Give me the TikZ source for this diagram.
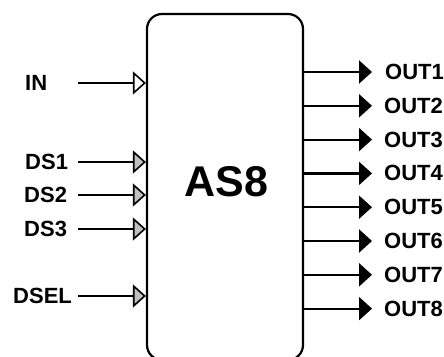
\documentclass[tikz,border=0pt]{standalone}
\usepackage{fontspec}
\setmainfont{Liberation Sans}
\usepackage{tikz}
\usetikzlibrary{arrows.meta, positioning}
\definecolor{pingray}{RGB}{192,192,192}
\tikzset{
  %% ---- boxes ----
  chip/.style    = {rectangle, rounded corners=15pt,
                    draw=black, line width=2.2pt,
                    minimum width=156pt, minimum height=346pt,
                    inner sep=0pt},
  chipname/.style= {font=\fontsize{43}{48}\selectfont\bfseries, inner sep=0pt},
  pinlbl/.style  = {font=\fontsize{22}{25}\selectfont\bfseries,
                    inner sep=0pt, anchor=west},
  %% ---- arrows ----
  inarrow/.style = {-{Triangle[length=13pt, width=23pt,
                    fill=#1, line width=1.6pt]}, line width=2.2pt},
  inarrow/.default = white,
  outarrow/.style= {-{Triangle[length=13pt, width=23pt]}, line width=2.2pt},
}
\begin{document}
\begin{tikzpicture}[x=1pt, y=-1pt]
\useasboundingbox (0,0) rectangle (444,356);

%% ── chip body ─────────────────────────────────────────────────────────────
\node[chip] (chip) at (225,187) {};
\node[chipname] (name) at (226.5,182) {AS8};

%% ── input pins ────────────────────────────────────────────────────────────
\node[pinlbl] (lin)   at (25,83)  {IN};
\node[pinlbl] (lds1)  at (25,162) {DS1};
\node[pinlbl] (lds2)  at (24,195) {DS2};
\node[pinlbl] (lds3)  at (24,229) {DS3};
\node[pinlbl] (ldsel) at (13,296) {DSEL};

\coordinate (pin)   at (78,83);
\coordinate (pds1)  at (78,162);
\coordinate (pds2)  at (78,195);
\coordinate (pds3)  at (78,229);
\coordinate (pdsel) at (78,296);

\draw[inarrow]          (pin)   -- (pin   -| chip.west);
\draw[inarrow=pingray]  (pds1)  -- (pds1  -| chip.west);
\draw[inarrow=pingray]  (pds2)  -- (pds2  -| chip.west);
\draw[inarrow=pingray]  (pds3)  -- (pds3  -| chip.west);
\draw[inarrow=pingray]  (pdsel) -- (pdsel -| chip.west);

%% ── output pins ───────────────────────────────────────────────────────────
\coordinate (po1) at (372,72);
\coordinate (po2) at (372,105.8);
\coordinate (po3) at (372,139.6);
\coordinate (po4) at (372,173.4);
\coordinate (po5) at (372,207.2);
\coordinate (po6) at (372,241);
\coordinate (po7) at (372,274.8);
\coordinate (po8) at (372,308.6);

\draw[outarrow] (chip.east |- po1) -- (po1);
\draw[outarrow] (chip.east |- po2) -- (po2);
\draw[outarrow] (chip.east |- po3) -- (po3);
\draw[outarrow] (chip.east |- po4) -- (po4);
\draw[outarrow] (chip.east |- po5) -- (po5);
\draw[outarrow] (chip.east |- po6) -- (po6);
\draw[outarrow] (chip.east |- po7) -- (po7);
\draw[outarrow] (chip.east |- po8) -- (po8);

\node[pinlbl] (lo1) at (385,72)    {OUT1};
\node[pinlbl] (lo2) at (384,105.8) {OUT2};
\node[pinlbl] (lo3) at (384,139.6) {OUT3};
\node[pinlbl] (lo4) at (384,173.4) {OUT4};
\node[pinlbl] (lo5) at (384,207.2) {OUT5};
\node[pinlbl] (lo6) at (384,241)   {OUT6};
\node[pinlbl] (lo7) at (384,274.8) {OUT7};
\node[pinlbl] (lo8) at (384,308.6) {OUT8};

\end{tikzpicture}
\end{document}
